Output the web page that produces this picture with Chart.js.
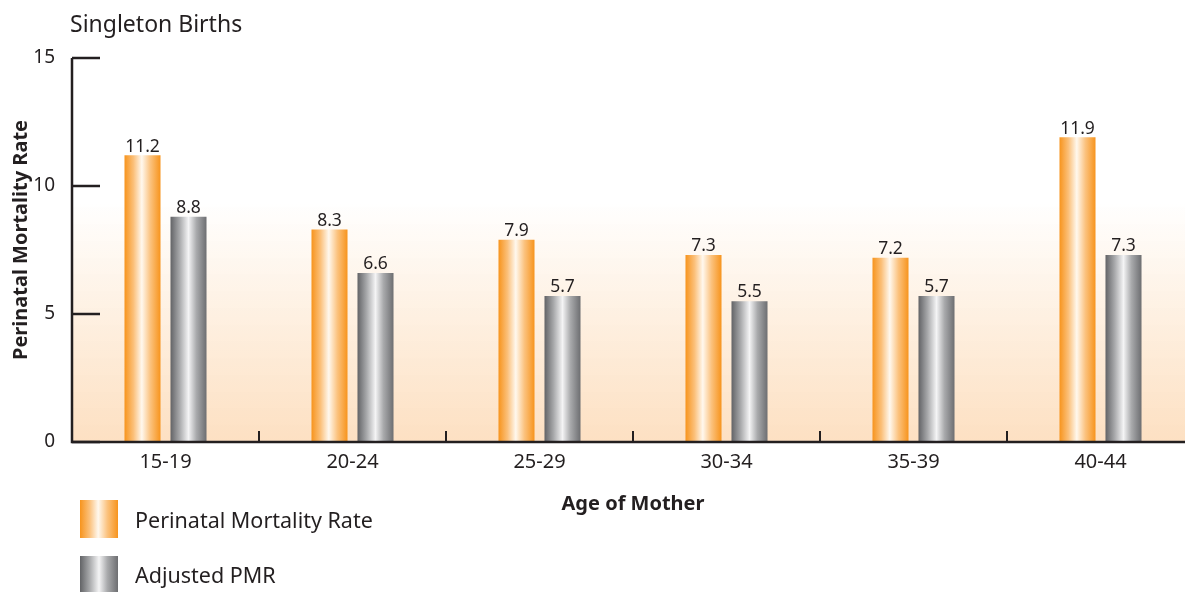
<!DOCTYPE html>
<html>
<head>
<meta charset="utf-8">
<script src="https://cdn.jsdelivr.net/npm/chart.js@4/dist/chart.umd.min.js"></script>
<style>
  html, body { margin: 0; padding: 0; background: #fff; overflow: hidden; width: 1185px; height: 592px; }
  #wrap { position: relative; width: 1194px; height: 592px; }
  #c { position: absolute; left: 0; top: 0; }
  .title { position: absolute; left: 70px; top: 7px; font: 23px "Noto Sans", sans-serif; color: #231f20; }
  .leg { position: absolute; left: 80px; font: 21.5px "Noto Sans", sans-serif; color: #231f20; }
  .sw { position: absolute; left: 0; width: 38px; height: 38px; }
  .lt { position: absolute; left: 55px; white-space: nowrap; }
</style>
</head>
<body>
<div id="wrap">
  <canvas id="c" width="1194" height="592"></canvas>
  <div class="title">Singleton Births</div>
  <div class="leg" id="leg1" style="top:500px;"><div class="sw" style="background:linear-gradient(90deg,#f7941d 0%,#fbc07a 25%,#fff8ee 48%,#fbc27e 72%,#f7941d 100%);"></div><div class="lt" style="top:5px;">Perinatal Mortality Rate</div></div>
  <div class="leg" id="leg2" style="top:556px;"><div class="sw" style="background:linear-gradient(90deg,#626366 0%,#a7a8aa 25%,#f4f4f5 50%,#a9aaac 72%,#6d6e71 100%);"></div><div class="lt" style="top:4px;">Adjusted PMR</div></div>
</div>
<script>
const categories = ["15-19", "20-24", "25-29", "30-34", "35-39", "40-44"];
const pmrValues = [11.2, 8.3, 7.9, 7.3, 7.2, 11.9];
const adjustedValues = [8.8, 6.6, 5.7, 5.5, 5.7, 7.3];
const seriesLabels = ["Perinatal Mortality Rate", "Adjusted PMR"];
const yTicks = [0, 5, 10, 15];
const yTitle = "Perinatal Mortality Rate";

const orangeStops = [[0, '#f7941d'], [0.25, '#fbc07a'], [0.48, '#fff8ee'], [0.72, '#fbc27e'], [1, '#f7941d']];
const grayStops = [[0, '#626366'], [0.25, '#a7a8aa'], [0.5, '#f4f4f5'], [0.72, '#a9aaac'], [1, '#6d6e71']];

function barGradient(stops, fallback) {
  return function (ctx) {
    const el = ctx.element;
    if (!el || el.x == null || el.width == null || isNaN(el.x)) return fallback;
    const g = ctx.chart.ctx.createLinearGradient(el.x - el.width / 2, 0, el.x + el.width / 2, 0);
    stops.forEach(s => g.addColorStop(s[0], s[1]));
    return g;
  };
}

const INK = '#231f20';

const bgPlugin = {
  id: 'bg',
  beforeDatasetsDraw(chart) {
    const { ctx, chartArea: a, scales: { y } } = chart;
    ctx.save();
    const top = y.getPixelForValue(9.4);
    const g = ctx.createLinearGradient(0, top, 0, a.bottom);
    g.addColorStop(0, 'rgba(253,224,192,0)');
    g.addColorStop(1, '#fde0c2');
    ctx.fillStyle = g;
    ctx.fillRect(a.left, top, a.right - a.left, a.bottom - top);
    ctx.restore();
  },
  afterDatasetsDraw(chart) {
    const { ctx, chartArea: a, scales: { x, y } } = chart;
    ctx.save();
    ctx.strokeStyle = INK;
    ctx.lineWidth = 2.5;
    ctx.beginPath();
    ctx.moveTo(a.left, y.getPixelForValue(15));
    ctx.lineTo(a.left, a.bottom);
    ctx.lineTo(a.right, a.bottom);
    ctx.stroke();
    yTicks.forEach(v => {
      const py = y.getPixelForValue(v);
      ctx.beginPath();
      ctx.moveTo(a.left, py);
      ctx.lineTo(a.left + 28, py);
      ctx.stroke();
    });
    ctx.lineWidth = 2;
    for (let i = 0; i < categories.length - 1; i++) {
      const px = (x.getPixelForValue(i) + x.getPixelForValue(i + 1)) / 2;
      ctx.beginPath();
      ctx.moveTo(px, a.bottom);
      ctx.lineTo(px, a.bottom - 11);
      ctx.stroke();
    }
    ctx.fillStyle = INK;
    ctx.font = '17.5px "Noto Sans", sans-serif';
    ctx.textAlign = 'center';
    ctx.textBaseline = 'bottom';
    chart.data.datasets.forEach((ds, di) => {
      const meta = chart.getDatasetMeta(di);
      meta.data.forEach((bar, i) => {
        ctx.fillText(ds.data[i].toFixed(1), bar.x, bar.y);
      });
    });
    // y axis title
    ctx.translate(21, (a.top + a.bottom) / 2 - 10);
    ctx.rotate(-Math.PI / 2);
    ctx.font = 'bold 20px "Noto Sans", sans-serif';
    ctx.textBaseline = 'middle';
    ctx.fillText(yTitle, 0, 0);
    ctx.restore();
  }
};

const chart = new Chart(document.getElementById('c'), {
  type: 'bar',
  data: {
    labels: categories,
    datasets: [
      { label: seriesLabels[0], data: pmrValues, backgroundColor: barGradient(orangeStops, '#f7941d'), borderWidth: 0 },
      { label: seriesLabels[1], data: adjustedValues, backgroundColor: barGradient(grayStops, '#8a8b8d'), borderWidth: 0 }
    ]
  },
  options: {
    responsive: false,
    animation: false,
    events: [],
    layout: { padding: { top: 58, left: 0, right: 0, bottom: 0 } },
    plugins: { legend: { display: false }, tooltip: { enabled: false } },
    datasets: { bar: { categoryPercentage: 0.492, barPercentage: 0.783 } },
    scales: {
      x: {
        grid: { display: false, drawTicks: false },
        border: { display: false },
        ticks: { color: INK, font: { family: 'Noto Sans', size: 20 }, padding: 8 },
        title: { display: true, text: 'Age of Mother', color: INK, font: { family: 'Noto Sans', size: 20, weight: 'bold' }, padding: { top: 0, bottom: 76 } },
        afterFit(s) { s.height = 150; }
      },
      y: {
        min: 0, max: 15,
        afterBuildTicks(s) { s.ticks = yTicks.map(v => ({ value: v })); },
        grid: { display: false, drawTicks: false },
        border: { display: false },
        ticks: { color: INK, font: { family: 'Noto Sans', size: 19 }, padding: 17 },
        title: { display: false },
        afterFit(s) { s.width = 72; }
      }
    }
  },
  plugins: [bgPlugin]
});
chart.update('none');
</script>
</body>
</html>
